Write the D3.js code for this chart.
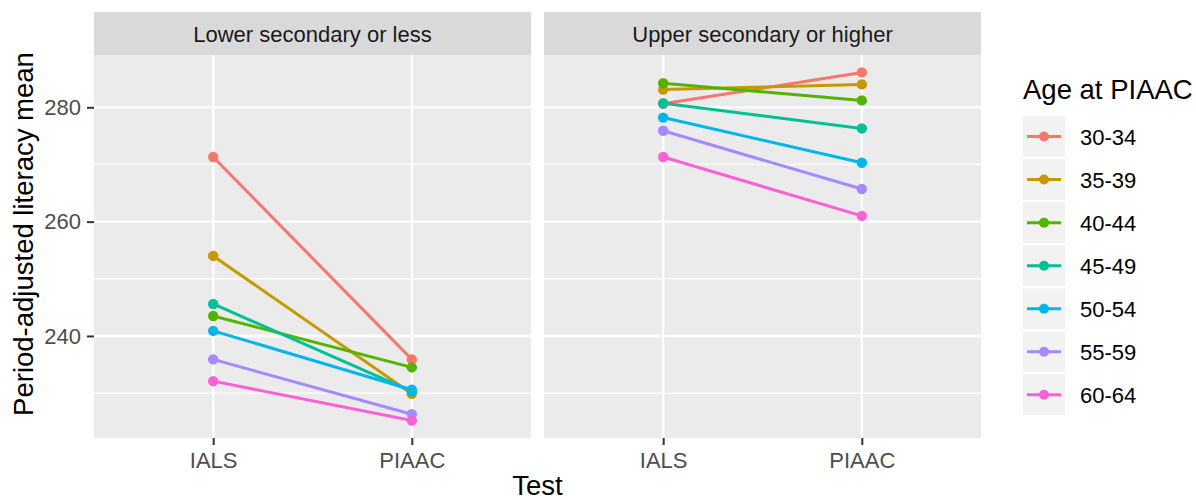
<!DOCTYPE html>
<html>
<head>
<meta charset="utf-8">
<script src="https://cdn.jsdelivr.net/npm/d3@7"></script>
<style>
  html, body { margin: 0; padding: 0; background: #fff; }
  svg { display: block; font-family: "Liberation Sans", Arial, sans-serif; }
</style>
</head>
<body>
<svg id="chart" width="1196" height="500"></svg>
<script>
// Period-adjusted literacy means by education level, test and age group
const facets = ["Lower secondary or less", "Upper secondary or higher"];
const tests = ["IALS", "PIAAC"];
const ageGroups = ["30-34", "35-39", "40-44", "45-49", "50-54", "55-59", "60-64"];
const colors = ["#F8766D", "#C49A00", "#53B400", "#00C094", "#00B6EB", "#A58AFF", "#FB61D7"];

// [IALS, PIAAC] per age group
const lowerValues = [
  [271.3, 235.9],
  [254.0, 229.9],
  [243.5, 234.5],
  [245.6, 230.3],
  [240.9, 230.6],
  [235.9, 226.3],
  [232.1, 225.2]
];
const upperValues = [
  [280.6, 286.1],
  [283.1, 284.0],
  [284.2, 281.2],
  [280.7, 276.3],
  [278.2, 270.3],
  [275.9, 265.7],
  [271.3, 261.0]
];
const yTicks = [240, 260, 280];
const yMinor = [230, 250, 270];

const facetValues = [lowerValues, upperValues];

const svg = d3.select("#chart");

const panelTop = 55, panelBottom = 438;
const stripTop = 12;
const panels = [
  { x0: 94, x1: 531 },
  { x0: 544, x1: 981 }
];

// y scale with ggplot-style 5% expansion
const all = facetValues.flat(2);
const [dmin, dmax] = d3.extent(all);
const pad = (dmax - dmin) * 0.05;
const y = d3.scaleLinear().domain([dmin - pad, dmax + pad]).range([panelBottom, panelTop]);

facets.forEach((name, fi) => {
  const p = panels[fi];
  const x = d3.scalePoint().domain(tests).range([p.x0, p.x1]).padding(0.6);
  const g = svg.append("g");

  // strip
  g.append("rect").attr("x", p.x0).attr("y", stripTop)
    .attr("width", p.x1 - p.x0).attr("height", panelTop - stripTop)
    .attr("fill", "#D9D9D9");
  g.append("text").attr("x", (p.x0 + p.x1) / 2).attr("y", 42)
    .attr("text-anchor", "middle").attr("font-size", 22).attr("fill", "#1A1A1A")
    .text(name);

  // panel background
  g.append("rect").attr("x", p.x0).attr("y", panelTop)
    .attr("width", p.x1 - p.x0).attr("height", panelBottom - panelTop)
    .attr("fill", "#EBEBEB");

  // grid
  g.selectAll(".minor").data(yMinor).join("line")
    .attr("x1", p.x0).attr("x2", p.x1)
    .attr("y1", d => y(d)).attr("y2", d => y(d))
    .attr("stroke", "#fff").attr("stroke-width", 1.2);
  g.selectAll(".major").data(yTicks).join("line")
    .attr("x1", p.x0).attr("x2", p.x1)
    .attr("y1", d => y(d)).attr("y2", d => y(d))
    .attr("stroke", "#fff").attr("stroke-width", 2.3);
  g.selectAll(".vmajor").data(tests).join("line")
    .attr("x1", d => x(d)).attr("x2", d => x(d))
    .attr("y1", panelTop).attr("y2", panelBottom)
    .attr("stroke", "#fff").attr("stroke-width", 2.3);

  // x axis
  const xa = g.append("g").attr("transform", `translate(0,${panelBottom})`)
    .call(d3.axisBottom(x).tickSize(7).tickPadding(7));
  xa.select(".domain").remove();
  xa.selectAll("line").attr("stroke", "#333333").attr("stroke-width", 2);
  xa.selectAll("text").attr("font-size", 22).attr("fill", "#4D4D4D")
    .attr("font-family", "Liberation Sans, Arial, sans-serif");

  // y axis on first panel
  if (fi === 0) {
    const ya = g.append("g").attr("transform", `translate(${p.x0},0)`)
      .call(d3.axisLeft(y).tickValues(yTicks).tickSize(7).tickPadding(6));
    ya.select(".domain").remove();
    ya.selectAll("line").attr("stroke", "#333333").attr("stroke-width", 2);
    ya.selectAll("text").attr("font-size", 22).attr("fill", "#4D4D4D")
      .attr("font-family", "Liberation Sans, Arial, sans-serif");
  }

  // series
  const line = d3.line().x((d, i) => x(tests[i])).y(d => y(d));
  facetValues[fi].forEach((vals, si) => {
    g.append("path").attr("d", line(vals))
      .attr("fill", "none").attr("stroke", colors[si]).attr("stroke-width", 3);
  });
  facetValues[fi].forEach((vals, si) => {
    g.selectAll(null).data(vals).join("circle")
      .attr("cx", (d, i) => x(tests[i])).attr("cy", d => y(d)).attr("r", 5.2)
      .attr("fill", colors[si]);
  });
});

// axis titles
svg.append("text").attr("x", (panels[0].x0 + panels[1].x1) / 2).attr("y", 495)
  .attr("text-anchor", "middle").attr("font-size", 27.5).attr("fill", "#000")
  .text("Test");
svg.append("text").attr("transform", "translate(33,234) rotate(-90)")
  .attr("text-anchor", "middle").attr("font-size", 27.5).attr("fill", "#000")
  .text("Period-adjusted literacy mean");

// legend
const lg = svg.append("g");
lg.append("text").attr("x", 1023).attr("y", 99).attr("font-size", 27.5).attr("fill", "#000")
  .text("Age at PIAAC");
const keyTop = 116, keyPitch = 43.05, keyX = 1023, keyW = 42;
ageGroups.forEach((a, i) => {
  const ky = keyTop + i * keyPitch;
  lg.append("rect").attr("x", keyX).attr("y", ky).attr("width", keyW).attr("height", keyPitch - 2)
    .attr("fill", "#F2F2F2");
  const cy = ky + (keyPitch - 2) / 2;
  lg.append("line").attr("x1", keyX + 4).attr("x2", keyX + keyW - 4)
    .attr("y1", cy).attr("y2", cy).attr("stroke", colors[i]).attr("stroke-width", 3);
  lg.append("circle").attr("cx", keyX + keyW / 2).attr("cy", cy).attr("r", 5).attr("fill", colors[i]);
  lg.append("text").attr("x", 1080).attr("y", cy + 8).attr("font-size", 22).attr("fill", "#000")
    .text(a);
});
</script>
</body>
</html>
